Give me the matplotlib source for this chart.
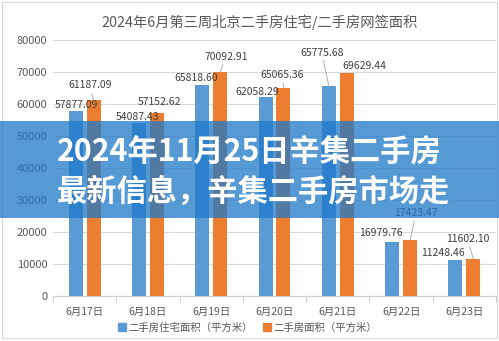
import matplotlib
matplotlib.use('Agg')
import matplotlib.pyplot as plt
from matplotlib.patches import Rectangle
from matplotlib.lines import Line2D
import numpy as np

plt.rcParams['font.family'] = ['Noto Sans CJK SC', 'DejaVu Sans']

days = ['6月17日', '6月18日', '6月19日', '6月20日', '6月21日', '6月22日', '6月23日']
house_area = [57877.09, 54087.43, 65818.60, 62058.29, 65775.68, 16979.76, 11248.46]
total_area = [61187.09, 57152.62, 70092.91, 65065.36, 69629.44, 17423.47, 11602.10]
series_names = ['二手房住宅面积（平方米）', '二手房面积（平方米）']
title = '2024年6月第三周北京二手房住宅/二手房网签面积'
banner_lines = ['2024年11月25日辛集二手房', '最新信息，辛集二手房市场走']

# label offsets in pixels (dx, dy) relative to the bar top
house_off = [(1, 6), (-1, 6), (-6, 7), (-8, 5), (-7, 33), (-11, 9), (-12, 7)]
total_off = [(-4, 15), (3, 11), (6, 15), (-1, 13), (18, 7), (6, 27), (-6, 20)]

W, H = 499, 341
fig = plt.figure(figsize=(W / 100, H / 100), dpi=100)
ax = fig.add_axes([53 / W, 1 - 296 / H, 443 / W, 256 / H])

blue = '#5B9BD5'
orange = '#ED7D31'
grey_txt = '#595959'
x = np.arange(len(days))
bw = 0.221
off = 0.142
ax.bar(x - off, house_area, bw, color=blue, zorder=2)
ax.bar(x + off, total_area, bw, color=orange, zorder=2)

ax.set_xlim(-0.5, len(days) - 0.5)
ax.set_ylim(0, 80000)
ax.set_yticks(np.arange(0, 80001, 10000))
ax.yaxis.grid(True, color='#d9d9d9', linewidth=0.8, zorder=0)
ax.set_axisbelow(True)
for s in ['top', 'right', 'left']:
    ax.spines[s].set_visible(False)
ax.spines['bottom'].set_color('#d0d0d0')
ax.spines['bottom'].set_linewidth(0.8)
ax.tick_params(axis='y', length=0, labelsize=8, labelcolor=grey_txt, pad=4)
ax.set_xticks(x)
ax.set_xticklabels(days)
ax.tick_params(axis='x', which='major', length=0, labelsize=7.5,
               labelcolor=grey_txt, pad=8)
ax.set_xticks(np.arange(-0.5, len(days), 1), minor=True)
ax.tick_params(axis='x', which='minor', length=4, color='#d0d0d0', width=0.8)


def put_labels(xs, vals, offs):
    for xi, v, (dx, dy) in zip(xs, vals, offs):
        arrow = None
        if dy >= 13:
            arrow = dict(arrowstyle='-', color='#a6a6a6', lw=0.6,
                         shrinkA=0, shrinkB=0)
        ax.annotate(f'{v:.2f}', xy=(xi, v), xytext=(dx, dy),
                    textcoords='offset pixels', ha='center', va='center',
                    fontsize=7.5, color='#404040', arrowprops=arrow, zorder=3)


put_labels(x - off, house_area, house_off)
put_labels(x + off, total_area, total_off)

fig.text(259.5 / W, 1 - 22 / H, title, ha='center', va='center',
         fontsize=10.3, color=grey_txt)

handles = [Line2D([], [], marker='s', linestyle='none', color=c, markersize=5.5)
           for c in (blue, orange)]
fig.legend(handles, series_names, loc='center',
           bbox_to_anchor=(247 / W, 1 - 328 / H), ncol=2, frameon=False,
           fontsize=7.5, labelcolor=grey_txt, handletextpad=0.1,
           columnspacing=0.8, handlelength=1.0, borderaxespad=0)

# chart frame
fig.patches.append(Rectangle((2 / W, 3 / H), 495 / W, 336 / H,
                             transform=fig.transFigure, fill=False,
                             edgecolor='#d9d9d9', linewidth=0.8))

# translucent banner with headline
fig.patches.append(Rectangle((0, 1 - 218 / H), 1, 97 / H,
                             transform=fig.transFigure, facecolor=(30 / 255, 120 / 255, 200 / 255),
                             alpha=0.75, edgecolor='none', zorder=10))
for i, line in enumerate(banner_lines):
    fig.text(57 / W, 1 - (153 + 39 * i) / H, line, ha='left', va='center',
             fontsize=21.8, fontweight='bold', color='white', zorder=11)

fig.savefig('out.png', dpi=100)
